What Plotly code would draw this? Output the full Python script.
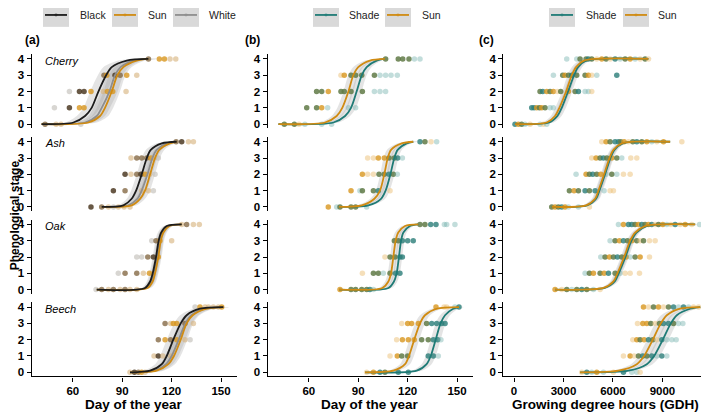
import plotly.graph_objects as go

# the page puts the figure 8 px in from the top-left corner of the window
PAGE_OFF = 8
W, H = 709 - PAGE_OFF, 414 - PAGE_OFF


def fx(px):
    return (px - PAGE_OFF) / W


def fy(py):
    return 1 - (py - PAGE_OFF) / H


Y_KNOTS = [0, 0.1, 0.5, 1, 2, 3, 3.5, 3.9, 4]
SPECIES = ["Cherry", "Ash", "Oak", "Beech"]

# ---- (a) day of year, Black / Sun / White ----
cherry_a_black = [41, 60.3, 67.4, 71.4, 75.5, 80.2, 83.6, 92.7, 105.9]
cherry_a_sun = [41, 69.4, 76.5, 79.5, 83.6, 87.0, 90.7, 98.8, 105.9]
cherry_a_white = [41, 67.4, 74.5, 77.5, 82.2, 85.6, 89.0, 96.8, 105.9]
ash_a_black = [77.5, 90.7, 95.7, 98.4, 101.8, 104.9, 107.3, 114.0, 123.1]
ash_a_sun = [77.5, 95.7, 100.8, 103.8, 106.9, 109.9, 112.5, 119.0, 123.1]
ash_a_white = [77.5, 93.7, 99.2, 101.8, 105.3, 108.3, 110.9, 117.0, 123.1]
oak_a_black = [74.5, 103.8, 106.9, 108.5, 110.5, 112.1, 113.6, 117.0, 126.1]
oak_a_sun = [74.5, 105.3, 108.5, 109.9, 111.9, 113.4, 115.0, 118.6, 126.1]
oak_a_white = [74.5, 104.4, 107.7, 109.3, 111.3, 112.9, 114.4, 117.8, 126.1]
beech_a_black = [94.7, 106.9, 114.0, 117.0, 121.0, 125.5, 129.1, 137.2, 151.4]
beech_a_sun = [94.7, 110.9, 118.0, 121.4, 125.5, 129.1, 132.8, 141.3, 151.4]
beech_a_white = [94.7, 109.9, 116.6, 120.0, 124.3, 128.3, 132.0, 140.3, 151.4]

cherry_a_pts = [
    (105.9, 4, "b"), (112.5, 4, "o"), (115.6, 4, "o"), (119.0, 4, "k"), (122.5, 4, "k"),
    (78.9, 3, "b"), (80.6, 3, "o"), (85.6, 3, "d"), (88.7, 3, "b"), (92.7, 3, "o"), (98.8, 3, "k"),
    (57.9, 2, "w"), (64.0, 2, "d"), (66.8, 2, "d"), (71.0, 2, "o"), (78.5, 2, "k"),
    (81.0, 2, "o"), (84.2, 2, "o"), (92.3, 2, "k"),
    (48.8, 1, "w"), (57.9, 1, "d"), (64.0, 1, "o"), (66.8, 1, "o"),
    (43.1, 0, "b"), (49.8, 0, "k"), (52.8, 0, "k"), (64.8, 0, "w"),
]
ash_a_pts = [
    (122.7, 4, "b"), (126.1, 4, "d"), (130.2, 4, "k"), (133.2, 4, "k"),
    (95.3, 3, "k"), (98.8, 3, "b"), (101.8, 3, "b"), (104.9, 3, "b"), (107.3, 3, "o"),
    (109.3, 3, "k"), (111.9, 3, "w"),
    (91.7, 2, "d"), (95.3, 2, "k"), (98.8, 2, "b"), (101.4, 2, "d"), (103.8, 2, "o"),
    (106.5, 2, "k"), (109.9, 2, "w"),
    (84.6, 1, "d"), (91.7, 1, "b"), (101.8, 1, "k"), (105.9, 1, "k"), (108.9, 1, "w"),
    (71.0, 0, "d"), (77.5, 0, "b"), (81.6, 0, "k"), (84.6, 0, "w"), (87.6, 0, "k"),
    (91.1, 0, "k"), (94.7, 0, "k"),
]
oak_a_pts = [
    (126.1, 4, "k"), (129.1, 4, "b"), (133.2, 4, "k"), (136.8, 4, "k"),
    (107.9, 3, "w"), (110.5, 3, "b"), (112.9, 3, "o"), (120.0, 3, "k"),
    (98.8, 2, "w"), (101.8, 2, "w"), (105.5, 2, "b"), (108.9, 2, "d"), (111.9, 2, "o"),
    (87.6, 1, "w"), (91.7, 1, "b"), (98.8, 1, "b"), (102.8, 1, "k"), (106.5, 1, "o"),
    (74.1, 0, "w"), (77.5, 0, "b"), (81.6, 0, "k"), (84.6, 0, "b"), (88.7, 0, "k"),
    (91.7, 0, "b"), (94.7, 0, "k"), (98.8, 0, "k"),
]
beech_a_pts = [
    (134.2, 4, "w"), (137.2, 4, "o"), (140.3, 4, "k"), (142.3, 4, "k"), (145.3, 4, "k"),
    (148.4, 4, "k"), (150.4, 4, "o"),
    (116.0, 3, "b"), (119.4, 3, "k"), (121.0, 3, "o"), (123.1, 3, "o"), (128.1, 3, "b"), (133.2, 3, "k"),
    (111.9, 2, "b"), (116.0, 2, "o"), (119.4, 2, "b"), (123.1, 2, "o"), (128.1, 2, "k"), (131.2, 2, "w"),
    (109.3, 1, "k"), (111.9, 1, "d"), (114.6, 1, "k"), (119.4, 1, "k"),
    (94.7, 0, "k"), (97.4, 0, "d"), (99.8, 0, "b"), (101.8, 0, "o"), (103.8, 0, "k"),
]

# ---- (b) day of year, Shade / Sun ----
cherry_b_sun = [41.5, 69.8, 76.9, 80.3, 84.0, 87.0, 90.0, 97.1, 106.2]
cherry_b_shade = [41.5, 74.9, 82.0, 85.6, 89.0, 92.1, 95.1, 101.2, 106.2]
ash_b_sun = [78.3, 92.1, 99.8, 103.2, 105.8, 107.9, 109.9, 116.4, 123.4]
ash_b_shade = [78.3, 96.1, 103.8, 106.6, 109.5, 111.9, 113.9, 119.4, 123.4]
oak_b_sun = [78.3, 104.6, 108.3, 109.9, 111.3, 112.7, 114.3, 118.4, 126.5]
oak_b_shade = [78.3, 108.3, 111.7, 113.3, 114.7, 116.0, 117.4, 121.4, 126.5]
beech_b_sun = [94.1, 111.3, 118.4, 120.8, 124.0, 127.5, 130.5, 137.6, 151.2]
beech_b_shade = [94.1, 125.5, 131.5, 134.0, 137.0, 140.0, 142.7, 147.7, 151.2]

cherry_b_pts = [
    (106.6, 4, "g"), (114.3, 4, "g"), (117.0, 4, "g"), (120.8, 4, "g"), (124.1, 4, "T"), (127.5, 4, "T"),
    (79.5, 3, "O"), (81.5, 3, "o"), (85.6, 3, "g"), (88.4, 3, "g"), (92.1, 3, "g"), (99.8, 3, "g"),
    (103.2, 3, "T"), (106.6, 3, "T"), (109.9, 3, "T"), (113.7, 3, "T"),
    (64.7, 2, "g"), (67.8, 2, "g"), (71.8, 2, "o"), (79.5, 2, "g"), (81.5, 2, "g"), (85.6, 2, "g"),
    (92.5, 2, "g"), (99.8, 2, "T"), (103.2, 2, "T"), (106.6, 2, "T"),
    (58.7, 1, "g"), (64.7, 1, "g"), (67.8, 1, "o"), (71.4, 1, "T"), (84.0, 1, "T"), (88.4, 1, "T"),
    (45.1, 0, "g"), (51.2, 0, "g"), (54.0, 0, "O"), (57.6, 0, "T"), (67.8, 0, "T"), (73.8, 0, "T"),
]
ash_b_pts = [
    (127.5, 4, "t"), (130.5, 4, "g"), (134.2, 4, "O"), (137.6, 4, "T"),
    (95.7, 3, "O"), (99.2, 3, "O"), (102.2, 3, "o"), (105.8, 3, "o"), (108.7, 3, "g"),
    (111.9, 3, "g"), (113.9, 3, "t"), (116.8, 3, "T"),
    (92.5, 2, "o"), (95.7, 2, "O"), (99.2, 2, "O"), (102.6, 2, "g"), (105.8, 2, "g"),
    (108.7, 2, "t"), (111.3, 2, "g"), (113.7, 2, "T"),
    (85.6, 1, "o"), (91.0, 1, "T"), (92.5, 1, "g"), (99.2, 1, "g"), (102.2, 1, "t"), (109.3, 1, "O"),
    (71.8, 0, "o"), (76.9, 0, "T"), (78.9, 0, "g"), (85.6, 0, "g"), (88.4, 0, "g"), (95.1, 0, "T"),
]
oak_b_pts = [
    (127.5, 4, "g"), (130.5, 4, "g"), (134.0, 4, "t"), (137.2, 4, "t"), (142.3, 4, "T"),
    (143.7, 4, "T"), (148.7, 4, "T"),
    (111.9, 3, "g"), (114.3, 3, "g"), (116.8, 3, "t"), (120.0, 3, "t"), (123.4, 3, "t"),
    (106.2, 2, "O"), (109.3, 2, "g"), (112.3, 2, "g"), (115.3, 2, "t"), (116.8, 2, "t"),
    (92.5, 1, "O"), (99.2, 1, "g"), (102.2, 1, "g"), (105.2, 1, "T"), (109.3, 1, "g"),
    (112.7, 1, "t"), (115.3, 1, "t"),
    (78.9, 0, "o"), (85.6, 0, "g"), (88.4, 0, "g"), (92.1, 0, "g"), (95.1, 0, "g"),
    (97.1, 0, "t"), (99.2, 0, "T"),
]
beech_b_pts = [
    (137.2, 4, "o"), (142.1, 4, "O"), (143.7, 4, "O"), (148.7, 4, "T"), (151.2, 4, "t"),
    (116.4, 3, "O"), (120.0, 3, "o"), (122.4, 3, "o"), (126.5, 3, "o"), (131.5, 3, "g"),
    (134.6, 3, "t"), (137.6, 3, "t"), (140.6, 3, "t"), (142.7, 3, "t"),
    (113.3, 2, "O"), (116.8, 2, "o"), (120.4, 2, "o"), (124.0, 2, "o"), (128.5, 2, "g"),
    (132.5, 2, "g"), (135.6, 2, "t"), (138.2, 2, "t"), (140.2, 2, "T"),
    (109.3, 1, "O"), (113.7, 1, "o"), (116.4, 1, "g"), (120.0, 1, "g"), (132.5, 1, "t"),
    (135.6, 1, "t"), (138.6, 1, "T"),
    (95.1, 0, "O"), (99.2, 0, "o"), (103.2, 0, "t"), (106.2, 0, "g"), (114.3, 0, "t"), (120.4, 0, "t"),
]

# ---- (c) growing degree hours, Shade / Sun ----
cherry_c_sun = [60, 1982, 2488, 2751, 3156, 3500, 3762, 4248, 8150]
cherry_c_shade = [60, 2144, 2630, 2893, 3277, 3641, 3884, 4369, 8150]
ash_c_sun = [2286, 4369, 4916, 5118, 5462, 5786, 6028, 6534, 9467]
ash_c_shade = [2286, 4430, 4976, 5179, 5522, 5846, 6089, 6595, 9467]
oak_c_sun = [2488, 5421, 6028, 6271, 6676, 7040, 7343, 7950, 10985]
oak_c_shade = [2488, 5502, 6109, 6352, 6757, 7121, 7424, 8031, 10985]
beech_c_sun = [4005, 6332, 7444, 7889, 8415, 8901, 9265, 10074, 11290]
beech_c_shade = [4005, 6939, 8051, 8496, 9022, 9508, 9872, 10681, 11290]

cherry_c_pts = [
    (3196, 4, "T"), (3803, 4, "T"), (4005, 4, "g"), (4369, 4, "g"), (4511, 4, "t"), (4713, 4, "g"),
    (5017, 4, "O"), (5320, 4, "o"), (5583, 4, "g"), (5826, 4, "O"), (6129, 4, "t"), (6433, 4, "T"),
    (6736, 4, "g"), (7040, 4, "o"), (7343, 4, "T"), (7647, 4, "O"), (7950, 4, "g"), (8152, 4, "O"),
    (2387, 3, "T"), (2953, 3, "g"), (3095, 3, "o"), (3297, 3, "g"), (3500, 3, "t"), (3803, 3, "g"),
    (4309, 3, "g"), (4511, 3, "o"), (4713, 3, "O"), (5017, 3, "T"), (6231, 3, "t"),
    (1578, 2, "g"), (1739, 2, "t"), (1982, 2, "o"), (2185, 2, "g"), (2387, 2, "o"), (2630, 2, "O"),
    (2832, 2, "g"), (3297, 2, "o"), (3702, 2, "g"), (3904, 2, "t"), (4309, 2, "T"), (4511, 2, "T"),
    (4713, 2, "O"),
    (1072, 1, "t"), (1213, 1, "t"), (1375, 1, "o"), (1537, 1, "g"), (1679, 1, "o"), (1881, 1, "g"),
    (2185, 1, "T"), (2387, 1, "T"),
    (60, 0, "t"), (263, 0, "o"), (465, 0, "g"), (667, 0, "T"), (971, 0, "O"), (1578, 0, "T"),
    (1780, 0, "O"), (1982, 0, "T"),
]
ash_c_pts = [
    (5320, 4, "O"), (5583, 4, "o"), (5826, 4, "g"), (6129, 4, "t"), (6332, 4, "t"), (6473, 4, "g"),
    (6676, 4, "o"), (6939, 4, "O"), (7202, 4, "g"), (7444, 4, "t"), (7748, 4, "g"), (8051, 4, "o"),
    (8355, 4, "T"), (8658, 4, "O"), (9063, 4, "o"), (10176, 4, "O"),
    (4713, 3, "O"), (4976, 3, "o"), (5219, 3, "g"), (5421, 3, "t"), (5624, 3, "g"), (5927, 3, "o"),
    (6231, 3, "g"), (6534, 3, "T"), (7080, 3, "O"), (7444, 3, "O"),
    (3762, 2, "T"), (4369, 2, "o"), (4572, 2, "g"), (4774, 2, "t"), (5017, 2, "g"), (5260, 2, "o"),
    (5583, 2, "T"), (5927, 2, "g"), (6231, 2, "T"), (6635, 2, "O"), (7040, 2, "O"),
    (3358, 1, "g"), (3641, 1, "o"), (3904, 1, "g"), (4309, 1, "t"), (4572, 1, "g"), (4916, 1, "t"),
    (5462, 1, "T"), (5826, 1, "O"), (6028, 1, "O"),
    (2286, 0, "g"), (2488, 0, "o"), (2690, 0, "g"), (2893, 0, "t"), (3095, 0, "o"), (3297, 0, "T"),
    (3904, 0, "T"), (4572, 0, "O"),
]
oak_c_pts = [
    (6332, 4, "T"), (6635, 4, "o"), (6939, 4, "t"), (7141, 4, "t"), (7343, 4, "g"), (7545, 4, "o"),
    (7748, 4, "t"), (7950, 4, "g"), (8152, 4, "o"), (8355, 4, "t"), (8557, 4, "O"), (8759, 4, "g"),
    (9022, 4, "o"), (9265, 4, "T"), (9508, 4, "O"), (9771, 4, "t"), (10074, 4, "O"), (10378, 4, "o"),
    (10782, 4, "O"), (11248, 4, "T"),
    (5826, 3, "T"), (6129, 3, "g"), (6392, 3, "o"), (6635, 3, "t"), (6878, 3, "g"), (7141, 3, "o"),
    (7444, 3, "g"), (7647, 3, "O"), (7849, 3, "g"), (8213, 3, "O"), (8557, 3, "O"),
    (5260, 2, "T"), (5522, 2, "g"), (5786, 2, "o"), (6028, 2, "g"), (6271, 2, "t"), (6534, 2, "g"),
    (6797, 2, "o"), (7040, 2, "T"), (7343, 2, "g"), (7647, 2, "o"), (8213, 2, "O"),
    (4309, 1, "T"), (4572, 1, "g"), (4814, 1, "o"), (5219, 1, "g"), (5462, 1, "o"), (5725, 1, "t"),
    (6129, 1, "g"), (6433, 1, "T"), (6736, 1, "O"), (7040, 1, "O"), (7606, 1, "O"),
    (2488, 0, "o"), (2893, 0, "O"), (3196, 0, "g"), (3500, 0, "T"), (3803, 0, "g"), (4106, 0, "t"),
    (4410, 0, "g"), (4814, 0, "T"), (5219, 0, "O"),
]
beech_c_pts = [
    (7849, 4, "o"), (8152, 4, "O"), (8456, 4, "g"), (8759, 4, "o"), (9063, 4, "O"), (9366, 4, "g"),
    (9670, 4, "t"), (9973, 4, "T"), (10277, 4, "t"), (10580, 4, "T"), (10883, 4, "O"), (11187, 4, "O"),
    (7485, 3, "O"), (7808, 3, "o"), (8051, 3, "o"), (8294, 3, "g"), (8557, 3, "O"), (8820, 3, "g"),
    (9063, 3, "t"), (9366, 3, "t"), (9670, 3, "g"), (9973, 3, "T"), (10236, 3, "T"),
    (7202, 2, "O"), (7444, 2, "o"), (7647, 2, "g"), (7889, 2, "o"), (8152, 2, "t"), (8415, 2, "g"),
    (8658, 2, "O"), (8962, 2, "t"), (9265, 2, "T"), (9568, 2, "T"), (9831, 2, "T"),
    (6635, 1, "O"), (7040, 1, "o"), (7283, 1, "O"), (7545, 1, "g"), (7808, 1, "t"), (8051, 1, "g"),
    (8355, 1, "t"), (8658, 1, "T"), (8962, 1, "t"), (9265, 1, "T"),
    (4106, 0, "O"), (4410, 0, "t"), (4713, 0, "T"), (5017, 0, "o"), (5421, 0, "T"), (6028, 0, "O"),
    (6635, 0, "t"), (7141, 0, "T"), (7444, 0, "T"), (7647, 0, "O"),
]

# half width of the grey confidence band, per panel (x units)
ci_a = [5, 3, 2, 4]
ci_b = [3, 2.5, 2, 3]
ci_c = [250, 200, 200, 350]

LINE_COLORS = {"Black": "#1c1c1c", "Sun": "#d08b12", "White": "#8e8e8e", "Shade": "#1f7b76"}
POINT_COLORS = {
    "d": "rgba(78,59,36,0.85)",
    "b": "rgba(125,96,58,0.75)",
    "o": "rgba(216,150,30,0.8)",
    "k": "rgba(214,176,122,0.6)",
    "w": "rgba(190,186,180,0.6)",
    "g": "rgba(96,122,70,0.85)",
    "t": "rgba(43,125,120,0.8)",
    "T": "rgba(120,180,175,0.45)",
    "O": "rgba(236,196,130,0.55)",
}
FONT = "Liberation Sans, Arial, sans-serif"

columns = [
    {
        "curves": [
            {"White": cherry_a_white, "Sun": cherry_a_sun, "Black": cherry_a_black},
            {"White": ash_a_white, "Sun": ash_a_sun, "Black": ash_a_black},
            {"White": oak_a_white, "Sun": oak_a_sun, "Black": oak_a_black},
            {"White": beech_a_white, "Sun": beech_a_sun, "Black": beech_a_black},
        ],
        "pts": [cherry_a_pts, ash_a_pts, oak_a_pts, beech_a_pts],
        "ci": ci_a, "range": [35, 159.5], "ticks": [60, 90, 120, 150],
        "title": "Day of the year", "px": (31.7, 236.7), "tag": "(a)", "tag_x": 32,
    },
    {
        "curves": [
            {"Shade": cherry_b_shade, "Sun": cherry_b_sun},
            {"Shade": ash_b_shade, "Sun": ash_b_sun},
            {"Shade": oak_b_shade, "Sun": oak_b_sun},
            {"Shade": beech_b_shade, "Sun": beech_b_sun},
        ],
        "pts": [cherry_b_pts, ash_b_pts, oak_b_pts, beech_b_pts],
        "ci": ci_b, "range": [35, 159.5], "ticks": [60, 90, 120, 150],
        "title": "Day of the year", "px": (267.7, 472.7), "tag": "(b)", "tag_x": 252,
    },
    {
        "curves": [
            {"Shade": cherry_c_shade, "Sun": cherry_c_sun},
            {"Shade": ash_c_shade, "Sun": ash_c_sun},
            {"Shade": oak_c_shade, "Sun": oak_c_sun},
            {"Shade": beech_c_shade, "Sun": beech_c_sun},
        ],
        "pts": [cherry_c_pts, ash_c_pts, oak_c_pts, beech_c_pts],
        "ci": ci_c, "range": [-650, 11780], "ticks": [0, 3000, 6000, 9000],
        "title": "Growing degree hours (GDH)", "px": (503.3, 708.3), "tag": "(c)", "tag_x": 486,
    },
]
ROW_PX = [(53.4, 128.1), (136.8, 211.5), (220.1, 294.8), (303.4, 378.1)]

fig = go.Figure()
layout = {}
annotations = []
shapes = []
tick_font = dict(family=FONT, size=11.5, color="#000", weight="bold")


def note(x, y, text, font, **kw):
    a = dict(x=fx(x), y=fy(y), xref="paper", yref="paper", showarrow=False, text=text,
             font=font, xanchor="center", yanchor="middle")
    a.update(kw)
    annotations.append(a)


n = 0
for ci_, col in enumerate(columns):
    for r in range(4):
        n += 1
        xa, ya = f"x{n}", f"y{n}"
        top, bot = ROW_PX[r]
        layout[f"xaxis{n}"] = dict(
            domain=[fx(col["px"][0]), fx(col["px"][1])], range=col["range"], anchor=ya,
            showgrid=False, zeroline=False, visible=(r == 3),
            showline=True, linecolor="#000", linewidth=1.4,
            ticks="outside", ticklen=4, tickwidth=1.4, tickcolor="#000",
            tickvals=col["ticks"], tickfont=tick_font,
        )
        layout[f"yaxis{n}"] = dict(
            domain=[fy(bot), fy(top)], range=[-0.25, 4.3], anchor=xa,
            showgrid=False, zeroline=False, showline=True, linecolor="#000", linewidth=1.4,
            ticks="outside", ticklen=4, tickwidth=1.4, tickcolor="#000",
            tickvals=[0, 1, 2, 3, 4], tickfont=tick_font,
        )
        hw = col["ci"][r]
        curves = col["curves"][r]
        # confidence bands
        for name, xs in curves.items():
            bx = [x - hw for x in xs] + [x + hw for x in xs[::-1]]
            by = Y_KNOTS + Y_KNOTS[::-1]
            fig.add_trace(go.Scatter(
                x=bx, y=by, xaxis=xa, yaxis=ya, mode="lines", fill="toself",
                fillcolor="rgba(165,165,165,0.3)", line=dict(width=0, shape="spline", smoothing=0.8),
                hoverinfo="skip", showlegend=False,
            ))
        # observations
        pts = col["pts"][r]
        fig.add_trace(go.Scatter(
            x=[p[0] for p in pts], y=[p[1] for p in pts], xaxis=xa, yaxis=ya, mode="markers",
            marker=dict(size=5.5, color=[POINT_COLORS[p[2]] for p in pts], line=dict(width=0)),
            showlegend=False,
        ))
        # fitted curves
        for name, xs in curves.items():
            fig.add_trace(go.Scatter(
                x=xs, y=Y_KNOTS, xaxis=xa, yaxis=ya, mode="lines",
                line=dict(color=LINE_COLORS[name], width=1.8, shape="spline", smoothing=0.8),
                showlegend=False,
            ))
        if ci_ == 0:
            note(43, top + 6.5, SPECIES[r],
                 dict(family=FONT, size=11, color="#000", style="italic"), xanchor="left")
    cx = (col["px"][0] + col["px"][1]) / 2
    note(cx, 406, col["title"], dict(family=FONT, size=13.5, color="#000", weight="bold"))
    note(col["tag_x"], 39, col["tag"], dict(family=FONT, size=12, color="#000", weight="bold"))

# y title sits as far left as the page allows
note(15, 215.8, "Phenological stage",
     dict(family=FONT, size=12, color="#000", weight="bold"), textangle=-90)

# legend keys drawn above each column
legend_keys = [
    ("Black", 43, 78), ("Sun", 112, 146), ("White", 173, 207),
    ("Shade", 313, 347), ("Sun", 385, 420),
    ("Shade", 549, 584), ("Sun", 623, 656),
]
for name, kx, lx in legend_keys:
    shapes.append(dict(type="rect", xref="paper", yref="paper", x0=fx(kx), x1=fx(kx + 26),
                       y0=fy(26), y1=fy(0), fillcolor="#d9d9d9", line=dict(width=0), layer="below"))
    shapes.append(dict(type="line", xref="paper", yref="paper", x0=fx(kx + 2), x1=fx(kx + 24),
                       y0=fy(14), y1=fy(14), line=dict(color=LINE_COLORS[name], width=1.8)))
    shapes.append(dict(type="circle", xref="paper", yref="paper", x0=fx(kx + 11.5), x1=fx(kx + 14.5),
                       y0=fy(15.5), y1=fy(12.5), fillcolor=LINE_COLORS[name],
                       line=dict(width=0), opacity=0.6))
    note(lx, 14, name, dict(family=FONT, size=10.5, color="#222"), xanchor="left")

fig.update_layout(
    width=W, height=H, margin=dict(l=0, r=0, t=0, b=0),
    paper_bgcolor="white", plot_bgcolor="white",
    annotations=annotations, shapes=shapes, showlegend=False, **layout,
)
fig.write_html("out.html")
